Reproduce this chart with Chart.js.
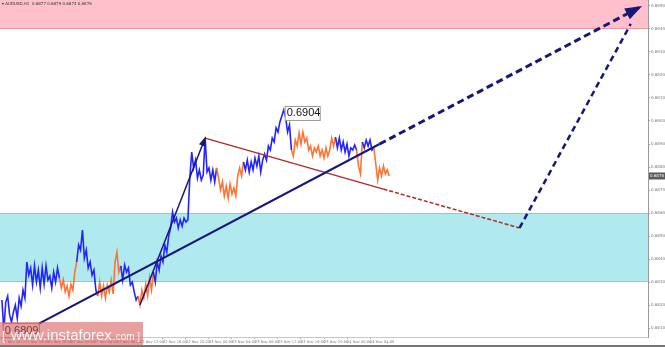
<!DOCTYPE html>
<html>
<head>
<meta charset="utf-8">
<script src="https://cdn.jsdelivr.net/npm/chart.js@4.4.1/dist/chart.umd.min.js"></script>
<style>
  html, body { margin: 0; padding: 0; background: #fff; }
  #wrap { position: relative; width: 665px; height: 347px; }
</style>
</head>
<body>
<div id="wrap"><canvas id="chart" width="665" height="347"></canvas></div>
<script>
// Chart data (AUDUSD, 20-minute samples starting 21 Nov 12:00)
const symbolTitle = 'AUDUSD,H1  0.6877 0.6879 0.6874 0.6876';
const timeLabels = ['21 Nov 2017', '21 Nov 16:00', '21 Nov 20:00', '22 Nov 00:00', '22 Nov 04:00',
  '22 Nov 08:00', '22 Nov 12:00', '22 Nov 16:00', '22 Nov 20:00', '23 Nov 00:00', '23 Nov 04:00',
  '23 Nov 08:00', '23 Nov 12:00', '23 Nov 16:00', '23 Nov 20:00', '24 Nov 00:00', '24 Nov 04:00'];
const samplesPerLabel = 12;
const priceTicks = [0.6950, 0.6940, 0.6930, 0.6920, 0.6910, 0.6900, 0.6890, 0.6880,
  0.6870, 0.6860, 0.6850, 0.6840, 0.6830, 0.6820, 0.6810];

const prices = [
  0.68222, 0.68091, 0.68213, 0.68239, 0.68157, 0.68126, 0.68170, 0.68200, 0.68143, 0.68230,
  0.68196, 0.68265, 0.68230, 0.68387, 0.68330, 0.68361, 0.68287, 0.68370, 0.68300, 0.68352,
  0.68274, 0.68361, 0.68291, 0.68370, 0.68309, 0.68326, 0.68274, 0.68343, 0.68300, 0.68361,
  0.68317, 0.68274, 0.68309, 0.68257, 0.68283, 0.68239, 0.68291, 0.68265, 0.68343, 0.68387,
  0.68461, 0.68439, 0.68526, 0.68404, 0.68439, 0.68361, 0.68387, 0.68330, 0.68352, 0.68265,
  0.68239, 0.68300, 0.68239, 0.68283, 0.68230, 0.68287, 0.68257, 0.68309, 0.68248, 0.68387,
  0.68430, 0.68343, 0.68370, 0.68309, 0.68374, 0.68343, 0.68361, 0.68287, 0.68300, 0.68257,
  0.68222, 0.68239, 0.68200, 0.68265, 0.68230, 0.68291, 0.68239, 0.68317, 0.68265, 0.68343,
  0.68300, 0.68387, 0.68352, 0.68413, 0.68387, 0.68461, 0.68430, 0.68500, 0.68535, 0.68604,
  0.68561, 0.68578, 0.68535, 0.68570, 0.68543, 0.68578, 0.68561, 0.68570, 0.68752, 0.68865,
  0.68796, 0.68830, 0.68752, 0.68787, 0.68743, 0.68765, 0.68926, 0.68778, 0.68796, 0.68743,
  0.68787, 0.68735, 0.68796, 0.68752, 0.68700, 0.68735, 0.68674, 0.68717, 0.68665, 0.68726,
  0.68683, 0.68709, 0.68674, 0.68761, 0.68796, 0.68761, 0.68822, 0.68787, 0.68830, 0.68778,
  0.68822, 0.68787, 0.68839, 0.68804, 0.68848, 0.68778, 0.68830, 0.68857, 0.68830, 0.68891,
  0.68874, 0.68926, 0.68909, 0.68970, 0.68952, 0.68996, 0.69022, 0.69048, 0.69013, 0.68952,
  0.68983, 0.68874, 0.68848, 0.68917, 0.68891, 0.68948, 0.68900, 0.68952, 0.68909, 0.68926,
  0.68874, 0.68891, 0.68848, 0.68883, 0.68865, 0.68891, 0.68848, 0.68874, 0.68839, 0.68883,
  0.68848, 0.68874, 0.68926, 0.68891, 0.68930, 0.68883, 0.68926, 0.68874, 0.68909, 0.68865,
  0.68900, 0.68848, 0.68883, 0.68874, 0.68896, 0.68874, 0.68804, 0.68770, 0.68909, 0.68883,
  0.68917, 0.68891, 0.68917, 0.68874, 0.68883, 0.68813, 0.68743, 0.68796, 0.68761, 0.68804,
  0.68770, 0.68787, 0.68761
];
// sample index where each wave starts, alternating up / down
const waveStarts = [0, 31, 40, 51, 63, 72, 80, 113, 127, 152, 175, 186, 189, 195];

const targetZone = [0.6940, 0.6960];
const supportZone = [0.6830, 0.6860];

const trendLine = [{ x: -1, y: 0.68030 }, { x: 197, y: 0.68900 }];
const trendProjection = [{ x: 197, y: 0.68900 }, { x: 333, y: 0.69496 }];
const impulseLeg = [{ x: 72, y: 0.68200 }, { x: 106, y: 0.68926 }];
const correctionLine = [{ x: 106, y: 0.68926 }, { x: 199, y: 0.68704 }];
const correctionProjection = [{ x: 199, y: 0.68704 }, { x: 270, y: 0.68535 }];
const finalLeg = [{ x: 270, y: 0.68535 }, { x: 328, y: 0.69422 }];

const peakIndex = 147;
const peakLabel = '0.6904';
const lowIndex = 1;
const lowLabel = '0.6809';

const BLUE = '#2424ff';
const ORANGE = '#ff7436';
const NAVY = '#17177a';
const DARKRED = '#b42828';

function waveColor(i) {
  let w = 0;
  waveStarts.forEach((s, k) => { if (i >= s) w = k; });
  return w % 2 === 0 ? BLUE : ORANGE;
}

function drawArrowHead(ctx, from, to, len, half, color) {
  const ang = Math.atan2(to.y - from.y, to.x - from.x);
  const c = Math.cos(ang), s = Math.sin(ang);
  ctx.save();
  ctx.fillStyle = color;
  ctx.beginPath();
  ctx.moveTo(to.x + 2 * c, to.y + 2 * s);
  ctx.lineTo(to.x - len * c + half * s, to.y - len * s - half * c);
  ctx.lineTo(to.x - len * c - half * s, to.y - len * s + half * c);
  ctx.closePath();
  ctx.fill();
  ctx.restore();
}

// zones behind the price
const zonesPlugin = {
  id: 'zones',
  beforeDatasetsDraw(chart) {
    const { ctx, chartArea: a, scales: { y } } = chart;
    ctx.save();
    ctx.beginPath();
    ctx.rect(a.left, a.top, a.right - a.left, a.bottom - a.top);
    ctx.clip();
    const zones = [
      { z: targetZone, fill: '#ffc0cb', edge: '#e99aa8' },
      { z: supportZone, fill: '#b0e9ee', edge: '#7fd0df' }
    ];
    zones.forEach(({ z, fill, edge }) => {
      const top = y.getPixelForValue(z[1]);
      const bot = y.getPixelForValue(z[0]);
      ctx.fillStyle = fill;
      ctx.fillRect(a.left, top, a.right - a.left, bot - top);
      ctx.fillStyle = edge;
      ctx.fillRect(a.left, Math.round(bot) - 1, a.right - a.left, 1);
      if (top > a.top) ctx.fillRect(a.left, Math.round(top), a.right - a.left, 1);
    });
    ctx.restore();
  }
};

const marksPlugin = {
  id: 'marks',
  afterDatasetsDraw(chart) {
    const ctx = chart.ctx;
    chart.data.datasets.forEach((ds, i) => {
      if (!ds.arrowLen) return;
      const pts = chart.getDatasetMeta(i).data;
      drawArrowHead(ctx, pts[pts.length - 2], pts[pts.length - 1], ds.arrowLen, ds.arrowHalf, ds.borderColor);
    });
  },
  afterDraw(chart) {
    const { ctx, chartArea: a, scales: { y } } = chart;
    const priceMeta = chart.getDatasetMeta(chart.data.datasets.length - 1).data;

    ctx.save();
    ctx.textBaseline = 'middle';
    // title
    ctx.fillStyle = '#333';
    ctx.font = '4px "DejaVu Sans"';
    ctx.fillText('\u25BE ' + symbolTitle, 2, 4);

    // peak label
    const pk = priceMeta[peakIndex];
    ctx.font = '11px "Liberation Sans"';
    ctx.fillStyle = '#fff';
    ctx.fillRect(pk.x + 1, pk.y - 4, 35, 14);
    ctx.strokeStyle = '#999';
    ctx.lineWidth = 1;
    ctx.strokeRect(pk.x + 1.5, pk.y - 3.5, 35, 14);
    ctx.fillStyle = '#111';
    ctx.fillText(peakLabel, pk.x + 3, pk.y + 3.5);

    // low label
    const lw = priceMeta[lowIndex];
    ctx.fillStyle = '#fff';
    ctx.fillRect(lw.x - 1, lw.y - 7, 36, 14);
    ctx.strokeRect(lw.x - 0.5, lw.y - 6.5, 36, 14);
    ctx.fillStyle = '#111';
    ctx.fillText(lowLabel, lw.x + 1, lw.y + 0.5);

    // watermark
    ctx.fillStyle = 'rgba(214, 80, 80, 0.55)';
    ctx.fillRect(0, 322, 143, 23);
    ctx.fillStyle = 'rgba(255,255,255,0.92)';
    ctx.textBaseline = 'alphabetic';
    ctx.font = '12px "Liberation Sans"';
    ctx.fillText('[', 2, 340);
    ctx.font = '15px "Liberation Sans"';
    ctx.fillText('www.instaforex', 11, 340);
    const w = ctx.measureText('www.instaforex').width;
    ctx.font = '10px "Liberation Sans"';
    ctx.fillText('.com ]', 12 + w, 340);

    // current price tag
    const last = prices[prices.length - 1];
    const ly = y.getPixelForValue(last);
    ctx.fillStyle = '#5b5b5b';
    ctx.fillRect(a.right + 1, ly - 3.5, 16, 7);
    ctx.fillStyle = '#fff';
    ctx.textBaseline = 'middle';
    ctx.font = '4px "DejaVu Sans"';
    ctx.fillText(last.toFixed(4), a.right + 2, ly);

    // frame bottom
    ctx.fillStyle = '#777';
    ctx.fillRect(0, 345, 665, 2);
    ctx.restore();
  }
};

const priceData = prices.map((p, i) => ({ x: i, y: p }));

new Chart(document.getElementById('chart'), {
  type: 'line',
  data: {
    datasets: [
      { data: trendProjection, borderColor: NAVY, borderWidth: 3, borderDash: [7, 4], arrowLen: 15, arrowHalf: 6 },
      { data: finalLeg, borderColor: NAVY, borderWidth: 2.5, borderDash: [6, 4] },
      { data: trendLine, borderColor: NAVY, borderWidth: 2 },
      { data: impulseLeg, borderColor: NAVY, borderWidth: 1.5, arrowLen: 8, arrowHalf: 3.5 },
      { data: correctionProjection, borderColor: DARKRED, borderWidth: 1.5, borderDash: [4, 2] },
      { data: correctionLine, borderColor: DARKRED, borderWidth: 1.3 },
      {
        data: priceData,
        borderColor: BLUE,
        borderWidth: 1.6,
        segment: { borderColor: ctx => waveColor(ctx.p1DataIndex) }
      }
    ]
  },
  options: {
    responsive: false,
    animation: false,
    events: [],
    layout: { padding: 0 },
    elements: { point: { radius: 0 }, line: { tension: 0 } },
    plugins: { legend: { display: false }, tooltip: { enabled: false } },
    scales: {
      x: {
        type: 'linear',
        min: -1,
        max: 337,
        grid: { display: true, drawOnChartArea: false, drawTicks: true, tickLength: 2, color: '#aaa' },
        border: { display: true, color: '#c8c8c8' },
        afterBuildTicks: s => { s.ticks = timeLabels.map((_, k) => ({ value: k * samplesPerLabel })); },
        afterFit: s => { s.height = 10; s.paddingLeft = 0; s.paddingRight = 0; },
        ticks: {
          autoSkip: false,
          maxRotation: 0,
          align: 'start',
          padding: 1,
          color: '#777',
          font: { family: 'DejaVu Sans', size: 3.6 },
          callback: (v, idx) => timeLabels[idx]
        }
      },
      y: {
        position: 'right',
        min: 0.68061,
        max: 0.69526,
        grid: { display: true, drawOnChartArea: false, drawTicks: true, tickLength: 2, color: '#aaa' },
        border: { display: true, color: '#999' },
        afterBuildTicks: s => { s.ticks = priceTicks.map(v => ({ value: v })); },
        afterFit: s => { s.width = 17; s.paddingTop = 0; s.paddingBottom = 0; },
        ticks: {
          padding: 1,
          color: '#777',
          font: { family: 'DejaVu Sans', size: 4 },
          callback: v => v.toFixed(4)
        }
      }
    }
  },
  plugins: [zonesPlugin, marksPlugin]
});
</script>
</body>
</html>
